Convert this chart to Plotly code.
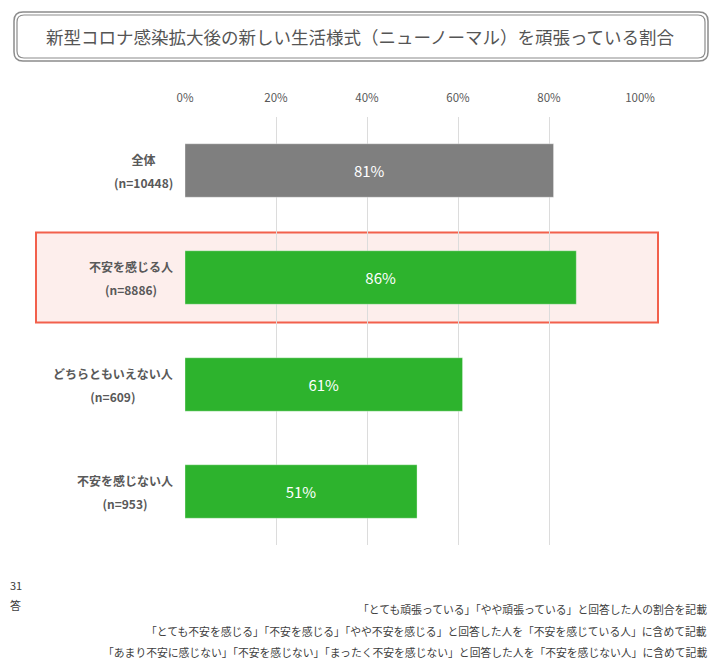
import plotly.graph_objects as go

# data
groups = ["全体", "不安を感じる人", "どちらともいえない人", "不安を感じない人"]
sample_n = ["(n=10448)", "(n=8886)", "(n=609)", "(n=953)"]
share = [81, 86, 61, 51]
bar_colors = ["#7f7f7f", "#2db32d", "#2db32d", "#2db32d"]
x_ticks = [0, 20, 40, 60, 80, 100]
x_tick_text = ["0%", "20%", "40%", "60%", "80%", "100%"]

title_text = "新型コロナ感染拡大後の新しい生活様式（ニューノーマル）を頑張っている割合"
notes = [
    "「とても頑張っている」「やや頑張っている」と回答した人の割合を記載",
    "「とても不安を感じる」「不安を感じる」「やや不安を感じる」と回答した人を「不安を感じている人」に含めて記載",
    "「あまり不安に感じない」「不安を感じない」「まったく不安を感じない」と回答した人を「不安を感じない人」に含めて記載",
]
left_bits = ["31", "答"]

FONT = "Noto Sans CJK JP"
OFF = 8  # page body margin
W, H = 720 - 2 * OFF, 672 - 2 * OFF
L, T = 185 - OFF, 117 - OFF
R = W - (640 - OFF)
B = H - (545 - OFF)
PW, PH = W - L - R, H - T - B


# screen pixel -> paper helpers
def px(x):
    return (x - OFF - L) / PW


def py(y):
    return (H - B - (y - OFF)) / PH


def round_rect(x0, y0, x1, y1, r):
    rx, ry = r / PW, r / PH
    a, b, c, d = px(x0), py(y1), px(x1), py(y0)
    return (f"M {a+rx},{b} L {c-rx},{b} Q {c},{b} {c},{b+ry} "
            f"L {c},{d-ry} Q {c},{d} {c-rx},{d} L {a+rx},{d} "
            f"Q {a},{d} {a},{d-ry} L {a},{b+ry} Q {a},{b} {a+rx},{b} Z")


fig = go.Figure()
fig.add_trace(go.Bar(
    x=share,
    y=groups,
    orientation="h",
    width=0.5,
    marker=dict(color=bar_colors, line=dict(color="rgba(255,255,255,0.35)", width=1)),
    text=[f"{v}%" for v in share],
    textposition="inside",
    insidetextanchor="middle",
    textfont=dict(color="white", size=15, family=FONT),
    hoverinfo="skip",
))

shapes = [
    # highlight box around the anxious group
    dict(type="rect", xref="paper", yref="y", x0=px(36), x1=px(658), y0=0.58, y1=1.42,
         fillcolor="#fdeeec", line=dict(color="#f2604c", width=2), layer="between"),
    # title frame (double line)
    dict(type="path", xref="paper", yref="paper", path=round_rect(14, 12, 708, 61, 9),
         line=dict(color="#8c8c8c", width=1.5), layer="above"),
    dict(type="path", xref="paper", yref="paper", path=round_rect(17, 15, 705, 58, 7),
         line=dict(color="#8c8c8c", width=1.2), layer="above"),
]

annotations = [
    dict(text=title_text, xref="paper", yref="paper", x=px(360), y=py(37),
         xanchor="center", yanchor="middle", showarrow=False,
         font=dict(size=17.5, color="#555555", family=FONT)),
]

for g, n in zip(groups, sample_n):
    annotations.append(dict(
        text=f"<span style='font-size:12px'><b>{g}</b><br><b>{n}</b></span>",
        xref="paper", yref="y", x=px(175), y=g, xanchor="right", yanchor="middle",
        align="center", showarrow=False,
        font=dict(size=18, color="#595959", family=FONT),
    ))

for i, t in enumerate(notes):
    annotations.append(dict(
        text=t, xref="paper", yref="paper", x=px(709), y=py(609 + 21.5 * i),
        xanchor="right", yanchor="middle", showarrow=False,
        font=dict(size=10.8, color="#404040", family=FONT),
    ))

for i, t in enumerate(left_bits):
    annotations.append(dict(
        text=t, xref="paper", yref="paper", x=px(OFF), y=py(585 + 20 * i),
        xanchor="left", yanchor="middle", showarrow=False,
        font=dict(size=11, color="#404040", family=FONT),
    ))

fig.update_layout(
    width=W, height=H,
    margin=dict(l=L, r=R, t=T, b=B),
    paper_bgcolor="white", plot_bgcolor="white",
    font=dict(family=FONT, color="#595959"),
    showlegend=False,
    shapes=shapes,
    annotations=annotations,
    xaxis=dict(
        range=[0, 100], side="top", tickvals=x_ticks, ticktext=x_tick_text,
        showgrid=True, gridcolor="#dcdcdc", gridwidth=1.3, zeroline=False,
        showline=False, ticks="", ticklabelstandoff=12, automargin=False,
        tickfont=dict(size=11.5, color="#595959", family=FONT),
        fixedrange=True,
    ),
    yaxis=dict(
        categoryorder="array", categoryarray=groups, autorange="reversed",
        showticklabels=False, showgrid=False, zeroline=False, fixedrange=True,
        automargin=False,
    ),
)

fig.write_html("out.html")
